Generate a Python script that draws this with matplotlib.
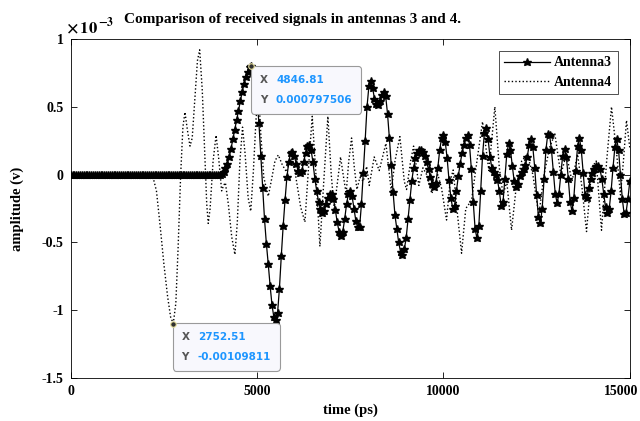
import numpy as np
import matplotlib
matplotlib.use("Agg")
import matplotlib.pyplot as plt
from matplotlib.offsetbox import AnnotationBbox, HPacker, VPacker, TextArea
from matplotlib.transforms import ScaledTranslation

plt.rcParams["font.family"] = ["Liberation Serif", "DejaVu Serif"]
plt.rcParams["font.weight"] = "bold"
plt.rcParams["mathtext.fontset"] = "stix"

# Antenna 3: one sample every 50 ps; flat at zero up to 3950 ps
ant3_step = 50
ant3_lead = [0.0] * 80
ant3_vals = [
    0.0, 0.005, 0.02, 0.045, 0.08, 0.13, 0.19, 0.26, 0.33, 0.40,          # 4000-4450
    0.47, 0.54, 0.61, 0.67, 0.72, 0.76, 0.79, 0.80, 0.77, 0.69,           # 4500-4950
    0.56, 0.38, 0.14, -0.10, -0.33, -0.51, -0.66, -0.82, -0.96, -1.05,    # 5000-5450
    -1.07, -1.02, -0.84, -0.60, -0.38, -0.19, -0.02, 0.09, 0.16, 0.17,    # 5500-5950
    0.14, 0.08, 0.03, 0.01, 0.03, 0.09, 0.16, 0.21, 0.22, 0.18,           # 6000-6450
    0.09, -0.03, -0.12, -0.20, -0.25, -0.28, -0.27, -0.22, -0.17, -0.14,  # 6500-6950
    -0.14, -0.18, -0.26, -0.35, -0.42, -0.45, -0.42, -0.33, -0.22, -0.14, # 7000-7450
    -0.12, -0.16, -0.25, -0.34, -0.39, -0.39, -0.22, 0.01, 0.25, 0.50,    # 7500-7950
    0.65, 0.69, 0.64, 0.56, 0.52, 0.51, 0.54, 0.59, 0.61, 0.58,           # 8000-8450
    0.45, 0.27, 0.07, -0.13, -0.30, -0.40, -0.50, -0.57, -0.59, -0.55,    # 8500-8950
    -0.47, -0.33, -0.19, -0.05, 0.05, 0.12, 0.16, 0.18, 0.18, 0.17,       # 9000-9450
    0.14, 0.09, 0.04, -0.02, -0.07, -0.09, -0.06, 0.05, 0.18, 0.27,       # 9500-9950
    0.29, 0.24, 0.12, -0.04, -0.17, -0.25, -0.23, -0.12, -0.01, 0.08,     # 10000-10450
    0.16, 0.22, 0.27, 0.29, 0.22, 0.04, -0.20, -0.40, -0.47, -0.38,       # 10500-10950
    -0.12, 0.14, 0.31, 0.34, 0.26, 0.13, 0.05, 0.02, 0.00, -0.04,         # 11000-11450
    -0.12, -0.23, -0.20, -0.03, 0.15, 0.23, 0.18, 0.06, -0.05, -0.09,     # 11500-11950
    -0.07, -0.01, 0.02, 0.04, 0.07, 0.13, 0.22, 0.26, 0.20, 0.05,         # 12000-12450
    -0.15, -0.31, -0.36, -0.25, -0.03, 0.18, 0.30, 0.29, 0.18, 0.02,      # 12500-12950
    -0.14, -0.21, -0.14, 0.00, 0.14, 0.19, 0.13, -0.03, -0.20, -0.27,     # 13000-13450
    -0.17, 0.03, 0.21, 0.27, 0.18, 0.01, -0.15, -0.17, -0.10, -0.03,      # 13500-13950
    0.01, 0.04, 0.06, 0.06, 0.04, -0.03, -0.14, -0.24, -0.28, -0.25,      # 14000-14450
    -0.12, 0.05, 0.20, 0.26, 0.18, 0.00, -0.18, -0.29, -0.28, -0.18,      # 14500-14950
    -0.05,                                                                # 15000
]

# Antenna 4: turning points (time in ps, amplitude in 1e-3 V)
ant4_t = [0, 2100, 2200, 2300, 2400, 2500, 2600, 2680, 2752, 2820, 2880, 2950, 3010, 3065,
          3130, 3200, 3260, 3330, 3400, 3460, 3530, 3600, 3650, 3690, 3740, 3820, 3900,
          3970, 4050, 4100, 4150, 4230, 4320, 4406, 4470, 4540, 4610, 4680, 4760, 4830,
          4900, 4970, 5037, 5100, 5180, 5300, 5400, 5480, 5569, 5680, 5790, 5880, 5960,
          6060, 6170, 6284, 6380, 6480, 6580, 6686, 6790, 6900, 6990, 7070, 7160, 7240,
          7310, 7390, 7460, 7536, 7610, 7680, 7760, 7850, 7940, 8010, 8143, 8277, 8457,
          8600, 8700, 8832, 8950, 9011, 9120, 9200, 9340, 9450, 9550, 9690, 9850, 9950,
          10084, 10180, 10262, 10380, 10487, 10600, 10755, 10900, 11050, 11220, 11380,
          11500, 11600, 11700, 11828, 11950, 12100, 12250, 12400, 12560, 12700, 12850,
          12990, 13150, 13300, 13450, 13600, 13720, 13840, 13980, 14100, 14242, 14380,
          14510, 14650, 14750, 14830, 14912, 15000]
ant4_v = [0.0, 0.0, -0.01, -0.12, -0.38, -0.66, -0.90, -1.05, -1.098, -0.95, -0.55, 0.0, 0.35, 0.46,
          0.33, 0.21, 0.27, 0.55, 0.84, 0.92, 0.62, 0.12, -0.22, -0.36, -0.25, 0.10, 0.29,
          0.12, -0.12, -0.08, -0.06, -0.22, -0.46, -0.59, -0.35, 0.10, 0.35, 0.15, -0.17, -0.27,
          0.02, 0.40, 0.62, 0.30, -0.02, -0.16, -0.02, 0.10, 0.145, 0.07, 0.02, 0.10, 0.12,
          -0.05, -0.24, -0.35, 0.05, 0.43, 0.00, -0.53, -0.05, 0.43, 0.00, -0.25, -0.05, 0.13,
          0.00, -0.14, 0.10, 0.27, 0.05, -0.11, -0.02, -0.05, 0.06, -0.08, 0.13, 0.03, 0.23,
          -0.12, 0.10, 0.28, -0.05, -0.11, 0.10, 0.21, -0.08, 0.05, 0.00, -0.14, 0.00, -0.10,
          -0.335, -0.05, 0.034, -0.30, -0.58, -0.25, -0.19, 0.10, 0.39, 0.03, 0.50,
          0.05, -0.15, -0.05, -0.41, -0.10, 0.10, 0.15, 0.00, -0.30, 0.00, 0.20,
          0.30, 0.00, 0.15, -0.05, 0.15, -0.10, -0.42, 0.05, 0.10, -0.41, 0.10,
          0.50, 0.15, -0.15, 0.10, 0.40, 0.20]

# data tips shown on the figure
tip3 = (4846.81, 0.000797506)
tip4 = (2752.51, -0.00109811)

ant3 = np.array(ant3_lead + ant3_vals) * 1e-3
ant3_t = np.arange(len(ant3)) * ant3_step
ant4 = np.array(ant4_v) * 1e-3

fig = plt.figure(figsize=(6.4, 4.21), dpi=100)
ax = fig.add_axes([0.1105, 0.1021, 0.8735, 0.8053])

ax.plot(ant3_t, ant3, color="black", lw=0.9, marker="*", ms=6.2, label="Antenna3")
ax.plot(ant4_t, ant4, color="black", lw=1.0, linestyle=(0, (1, 1.6)), label="Antenna4")

ax.set_xlim(0, 15000)
ax.set_ylim(-1.5e-3, 1e-3)
ax.set_xticks([0, 5000, 10000, 15000])
ax.set_yticks(np.array([-1.5, -1, -0.5, 0, 0.5, 1]) * 1e-3)
ax.set_yticklabels(["-1.5", "-1", "-0.5", "0", "0.5", "1"])
ax.tick_params(direction="in", top=True, right=True, length=4, width=0.6, labelsize=10, pad=5)
for s in ax.spines.values():
    s.set_linewidth(0.6)
last = ax.get_xticklabels()[-1]
last.set_transform(last.get_transform() + ScaledTranslation(-0.09, 0, fig.dpi_scale_trans))

ax.text(-0.008, 1.004, r"$\times\,10^{\,\mathbf{-3}}$", transform=ax.transAxes,
        fontsize=12, ha="left", va="bottom")
ax.set_title("Comparison of received signals in antennas 3 and 4.", fontsize=11,
             fontweight="bold", x=0.396, y=1.022)
ax.set_xlabel("time (ps)", fontsize=10.5, fontweight="bold", labelpad=4)
ax.set_ylabel("amplitude (v)", fontsize=10.5, fontweight="bold", labelpad=13)

leg = ax.legend(loc="upper right", bbox_to_anchor=(0.979, 0.965), borderaxespad=0,
                fontsize=10, frameon=True, fancybox=False, edgecolor="black", numpoints=1,
                handlelength=3.3, borderpad=0.4, labelspacing=0.45, handletextpad=0.3)
leg.get_frame().set_linewidth(0.6)


def data_tip(xy, off):
    ax.plot(*xy, marker="o", ms=4, mfc="#303030", mec="#e8e0a0", mew=0.8, zorder=5)
    grey = dict(color="#555555", fontsize=7.5, family="DejaVu Sans")
    blue = dict(color="#1e96ff", fontsize=7.5, family="DejaVu Sans", fontweight="bold")
    rows = []
    for name, val in (("X", f"{xy[0]:g}"), ("Y", f"{xy[1]:.6g}")):
        rows.append(HPacker(children=[TextArea(name, textprops=grey),
                                      TextArea(val, textprops=blue)], sep=6, pad=0))
    box = VPacker(children=rows, sep=7, pad=0)
    ab = AnnotationBbox(box, xy, xybox=off, boxcoords="offset points",
                        box_alignment=(0, 1), pad=0.65, frameon=True,
                        bboxprops=dict(boxstyle="round,pad=0.65,rounding_size=0.25",
                                       fc="#f8f8fd", ec="#9a9a9a", lw=0.8))
    ax.add_artist(ab)


data_tip(tip3, (6, -6))
data_tip(tip4, (6, -6))

fig.savefig("out.png", dpi=100)
